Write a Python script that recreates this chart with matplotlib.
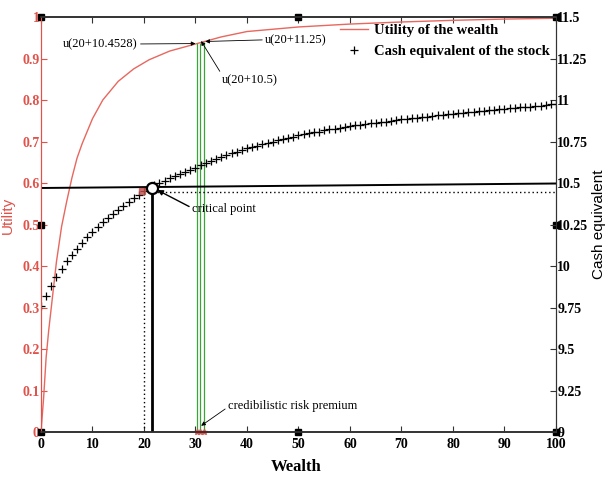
import matplotlib
matplotlib.use("Agg")
import matplotlib.pyplot as plt

# utility of the wealth (left axis)
u_w = [0, 0.5, 1, 1.5, 2, 3, 4, 5, 6, 7, 8, 10, 12, 15, 18, 21, 25, 30, 35, 40,
       50, 60, 70, 80, 90, 100]
u_val = [0, 0.08, 0.18, 0.245, 0.30, 0.41, 0.495, 0.556, 0.612, 0.66, 0.695,
         0.755, 0.80, 0.845, 0.875, 0.897, 0.918, 0.935, 0.952, 0.965,
         0.976, 0.983, 0.988, 0.992, 0.995, 0.997]

# cash equivalent of the stock (right axis), one value per unit of wealth
ce_w = list(range(101))
ce_val = [9.758, 9.820, 9.878, 9.933, 9.983, 10.028, 10.065, 10.103, 10.138, 10.173,
          10.205, 10.235, 10.263, 10.290, 10.315, 10.340, 10.363, 10.385, 10.408, 10.428,
          10.450, 10.468, 10.485, 10.500, 10.515, 10.530, 10.543, 10.555, 10.568, 10.580,
          10.593, 10.608, 10.620, 10.633, 10.645, 10.655, 10.668, 10.678, 10.688, 10.698,
          10.708, 10.718, 10.725, 10.735, 10.743, 10.750, 10.758, 10.765, 10.773, 10.780,
          10.788, 10.793, 10.800, 10.805, 10.810, 10.818, 10.823, 10.828, 10.833, 10.838,
          10.843, 10.848, 10.850, 10.855, 10.860, 10.863, 10.868, 10.870, 10.875, 10.878,
          10.883, 10.885, 10.890, 10.893, 10.898, 10.900, 10.903, 10.908, 10.910, 10.913,
          10.918, 10.920, 10.923, 10.925, 10.930, 10.933, 10.935, 10.938, 10.940, 10.943,
          10.948, 10.950, 10.953, 10.955, 10.958, 10.960, 10.963, 10.965, 10.968, 10.973,
          10.975]

crit_w, crit_ce = 21.6, 10.472          # critical point
star_w, star_ce = 19.6, 10.450          # red point left of it
hline_w = [0, 100]
hline_ce = [10.470, 10.497]             # solid horizontal line
dot_w = [22.5, 100]
dot_ce = 10.448                          # dotted horizontal line
vdot_w, vdot_top = 20, 10.415            # dotted vertical line
green_x = [30.3, 30.95, 31.6]
green_top = [0.937, 0.938, 0.940]

xticks = [0, 10, 20, 30, 40, 50, 60, 70, 80, 90, 100]
lticks = [0, 0.1, 0.2, 0.3, 0.4, 0.5, 0.6, 0.7, 0.8, 0.9, 1]
lticklabels = ['0', '0.1', '0.2', '0.3', '0.4', '0.5', '0.6', '0.7', '0.8', '0.9', '1']
rticks = [9, 9.25, 9.5, 9.75, 10, 10.25, 10.5, 10.75, 11, 11.25, 11.5]
rticklabels = ['9', '9.25', '9.5', '9.75', '10', '10.25', '10.5', '10.75', '11', '11.25', '11.5']

RED = '#e0524a'
SERIF = 'Liberation Serif'
SANS = 'Liberation Sans'

fig = plt.figure(figsize=(6.09, 4.79), dpi=100)
ax = fig.add_axes([0.0673, 0.0981, 0.8456, 0.8664])
ax2 = ax.twinx()

l1, = ax.plot(u_w, u_val, color='#e8675e', lw=1.0, label='Utility of the wealth')
ax.vlines(green_x, 0, green_top, color='#3aa43a', lw=0.9)
ax.plot(green_x, [0, 0, 0], ls='none', marker='*', ms=4, color=RED, clip_on=False)

l2, = ax2.plot(ce_w, ce_val, ls='none', marker='+', ms=6, mew=0.9, color='k',
               label='Cash equivalent of the stock')
ax2.plot(hline_w, hline_ce, color='k', lw=1.4)
ax2.plot(dot_w, [dot_ce, dot_ce], color='k', lw=1.0, ls=(0, (1, 2)))
ax2.plot([vdot_w, vdot_w], [9, vdot_top], color='k', lw=1.0, ls=(0, (1, 2)))
ax2.plot([crit_w, crit_w], [9, crit_ce - 0.02], color='k', lw=2.0)
ax2.plot([star_w], [star_ce], marker='s', ms=5, color='#c0504d', alpha=0.8)
ax2.plot([crit_w], [crit_ce], marker='o', ms=8, mfc='white', mec='k', mew=1.6)

ax.set_xlim(0, 100)
ax.set_ylim(0, 1)
ax2.set_ylim(9, 11.5)

ax.set_xticks(xticks)
ax.set_xticklabels([str(t) for t in xticks], fontfamily=SERIF, fontweight='bold', fontsize=10)
ax.set_yticks(lticks)
ax.set_yticklabels(lticklabels, fontfamily=SERIF, fontweight='bold', fontsize=10, color=RED)
ax2.set_yticks(rticks)
ax2.set_yticklabels(rticklabels, fontfamily=SERIF, fontweight='bold', fontsize=10)

ax.tick_params(axis='x', direction='in', length=4, top=True, pad=4, color='#333333')
ax.tick_params(axis='y', direction='in', length=4, colors=RED, pad=1)
ax2.tick_params(axis='y', direction='in', length=4, pad=1, color='#333333')

for a in (ax, ax2):
    a.spines['left'].set_color(RED)
    a.spines['top'].set_color('#333333')
    a.spines['bottom'].set_color('#333333')
    a.spines['right'].set_color('#333333')
    a.spines['top'].set_linewidth(1.2)
    a.spines['bottom'].set_linewidth(1.2)

# square markers at corners and midpoints of the box
sq_x = [0, 50, 100, 0, 50, 100, 0, 100]
sq_y = [1, 1, 1, 0, 0, 0, 0.5, 0.5]
ax.plot(sq_x, sq_y, ls='none', marker='s', ms=5, color='k', clip_on=False, zorder=10)

ax.set_xlabel('Wealth', fontfamily=SERIF, fontweight='bold', fontsize=12)
ax.xaxis.set_label_coords(0.495, -0.064)
ax.set_ylabel('Utility', fontfamily=SANS, fontsize=11, color=RED)
ax.yaxis.set_label_coords(-0.05, 0.523)
ax2.set_ylabel('Cash equivalent', fontfamily=SANS, fontsize=11)
ax2.yaxis.set_label_coords(1.07, 0.5)

ap = dict(arrowstyle='-|>', lw=0.6, color='k', mutation_scale=6, shrinkA=0, shrinkB=0)
tf = dict(fontfamily=SERIF, fontsize=9)
ax.annotate('u(20+10.4528)', xy=(30.0, 0.936), xytext=(18.8, 0.935), ha='right', va='center',
            arrowprops=dict(ap, relpos=(1, 0.5)), **tf)
ax.annotate('u(20+11.25)', xy=(31.9, 0.941), xytext=(43.5, 0.945), ha='left', va='center',
            arrowprops=dict(ap, relpos=(0, 0.5)), **tf)
ax.annotate('u(20+10.5)', xy=(31.1, 0.942), xytext=(35.2, 0.848), ha='left', va='center',
            arrowprops=dict(ap, relpos=(0, 0.9)), **tf)
ax.annotate('critical point', xy=(22.6, 0.583), xytext=(29.3, 0.537), ha='left', va='center',
            arrowprops=dict(ap, lw=1.0, mutation_scale=8, relpos=(0, 0.6)), **tf)
ax.annotate('credibilistic risk premium', xy=(31.1, 0.015), xytext=(36.3, 0.063),
            ha='left', va='center', arrowprops=dict(ap, relpos=(0, 0.4)), **tf)

leg = ax2.legend(handles=[l1, l2], loc='upper left', bbox_to_anchor=(340 / 609, 1 - 24 / 479),
                 bbox_transform=fig.transFigure, frameon=False, borderpad=0, borderaxespad=0,
                 handlelength=1.9, handletextpad=0.45, labelspacing=0.5,
                 prop=dict(family=SERIF, weight='bold', size=10.5))

fig.savefig('out.png', dpi=100)
